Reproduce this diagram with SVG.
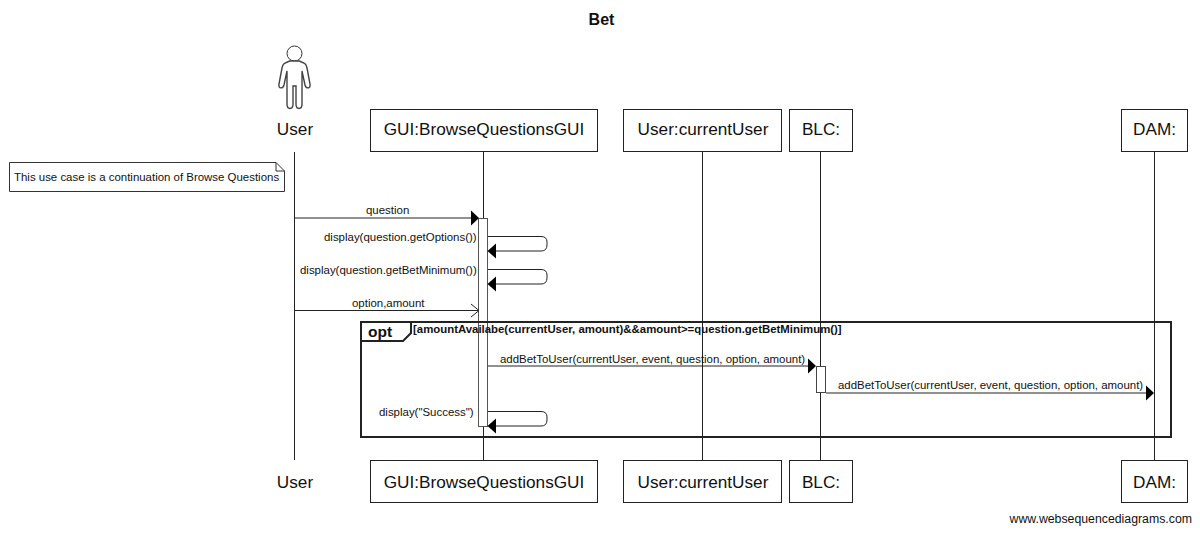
<svg xmlns="http://www.w3.org/2000/svg" width="1200" height="533" viewBox="0 0 1200 533">
<style>
text{font-family:"Liberation Sans",Arial,sans-serif;fill:#111}
.box{fill:#fff;stroke:#222;stroke-width:1}
.pl{font-size:17.2px;text-anchor:middle}
.m{font-size:11.45px}
.ln{stroke:#222;stroke-width:1;fill:none}
.ar{fill:#000;stroke:none}
</style>
<rect width="1200" height="533" fill="#fff"/>
<text id="title" x="601.500" y="25" font-size="16" font-weight="bold" text-anchor="middle">Bet</text>
<g id="lifelines">
<path class="ln" d="M294.500 152V460M483.500 152V460M702.500 152V460M820.500 152V460M1154.500 152V460"/>
</g>
<g id="activations">
<rect x="478.500" y="218.500" width="9" height="208" fill="#fff" stroke="#555"/>
<rect x="816.500" y="366.500" width="9" height="26" fill="#fff" stroke="#444"/>
</g>
<g id="frame">
<rect x="361" y="322" width="810" height="115" fill="none" stroke="#222" stroke-width="2"/>
<path d="M361 322H411V333L403 341H361Z" fill="#fff" stroke="#222" stroke-width="2"/>
<text x="368" y="337" font-size="15.500" font-weight="bold">opt</text>
<text x="413" y="333" font-size="11.400" font-weight="bold">[amountAvailabe(currentUser, amount)&amp;&amp;amount&gt;=question.getBetMinimum()]</text>
</g>
<g id="actor-user-top">
<circle cx="294.500" cy="53.500" r="7.500" fill="#fff" stroke="#333" stroke-width="1"/>
<path d="M290 61C285 63 283 63 282 68L279 84C278 89 283 89 284 85L287 71V104C287 110 293 110 293 104V86H296V104C296 110 302 110 302 104V71L305 85C306 89 311 89 310 84L307 68C306 63 304 63 299 61Z" fill="#fff" stroke="#444" stroke-width="1.400"/>
<text class="pl" x="295" y="135">User</text>
</g>
<g id="actor-user-bottom"><text class="pl" x="295" y="488">User</text></g>
<g id="gui-top"><rect class="box" x="370.500" y="109.500" width="227" height="42"/><text class="pl" x="484" y="135">GUI:BrowseQuestionsGUI</text></g>
<g id="gui-bottom"><rect class="box" x="370.500" y="460.500" width="227" height="42"/><text class="pl" x="484" y="487.500">GUI:BrowseQuestionsGUI</text></g>
<g id="cu-top"><rect class="box" x="623.500" y="109.500" width="158" height="42"/><text class="pl" x="703" y="135">User:currentUser</text></g>
<g id="cu-bottom"><rect class="box" x="623.500" y="460.500" width="158" height="42"/><text class="pl" x="703" y="487.500">User:currentUser</text></g>
<g id="blc-top"><rect class="box" x="789.500" y="109.500" width="63" height="42"/><text class="pl" x="821" y="135">BLC:</text></g>
<g id="blc-bottom"><rect class="box" x="789.500" y="460.500" width="63" height="42"/><text class="pl" x="821" y="487.500">BLC:</text></g>
<g id="dam-top"><rect class="box" x="1121.500" y="109.500" width="66" height="42"/><text class="pl" x="1154.500" y="135">DAM:</text></g>
<g id="dam-bottom"><rect class="box" x="1121.500" y="460.500" width="66" height="42"/><text class="pl" x="1154.500" y="487.500">DAM:</text></g>
<g id="note">
<path d="M9.500 162.500H276L284.500 171V191.500H9.500Z" fill="#fff" stroke="#333"/>
<path d="M276 162.500V171H284.500" fill="none" stroke="#333"/>
<text x="14" y="181" font-size="11.450">This use case is a continuation of Browse Questions</text>
</g>
<g id="connectors">
<path class="ln" d="M295 218H472"/><path class="ar" d="M471 210.500L479 218L471 225.500Z"/>
<text class="m" x="366" y="214">question</text>
<path class="ln" d="M488 236.500H541Q547 236.500 547 242V245Q547 251 541 251H495"/><path class="ar" d="M496 243.500L487.500 251L496 258.500Z"/>
<text class="m" x="324" y="241">display(question.getOptions())</text>
<path class="ln" d="M488 269.500H541Q547 269.500 547 275V278Q547 284 541 284H495"/><path class="ar" d="M496 276.500L487.500 284L496 291.500Z"/>
<text class="m" x="300" y="274">display(question.getBetMinimum())</text>
<path class="ln" d="M295 310.500H478M471 304L479 310.500L471 317"/>
<text class="m" x="352" y="307">option,amount</text>
<path class="ln" d="M488 366H810"/><path class="ar" d="M808 358.500L816 366L808 373.500Z"/>
<text class="m" x="500" y="363">addBetToUser(currentUser, event, question, option, amount)</text>
<path class="ln" d="M826 393H1147"/><path class="ar" d="M1146 385.500L1154 393L1146 400.500Z"/>
<text class="m" x="838" y="389">addBetToUser(currentUser, event, question, option, amount)</text>
<path class="ln" d="M488 411.500H541Q547 411.500 547 417V420Q547 426 541 426H495"/><path class="ar" d="M496 418.500L487.500 426L496 433.500Z"/>
<text class="m" x="379" y="416">display("Success")</text>
</g>
<text id="credit" x="1192" y="523" font-size="12.300" text-anchor="end">www.websequencediagrams.com</text>
</svg>
